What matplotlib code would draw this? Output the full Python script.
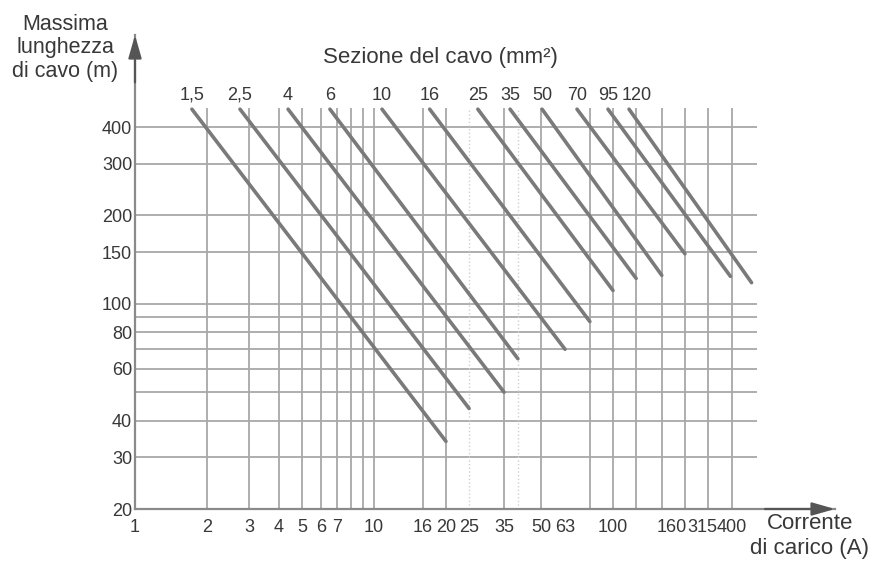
import matplotlib.pyplot as plt
from matplotlib.ticker import NullLocator
import matplotlib.transforms as mtransforms

plt.rcParams['font.family'] = ['Liberation Sans', 'DejaVu Sans']

# cable sections and their straight lines (start -> end)
sections = ['1,5', '2,5', '4', '6', '10', '16', '25', '35', '50', '70', '95', '120']
x_start = [1.73, 2.75, 4.37, 6.54, 10.8, 17.1, 27.2, 37.1, 50.5, 70.7, 95.3, 116.7]
y_start = [460, 460, 460, 460, 460, 460, 460, 460, 460, 460, 460, 460]
x_end = [20, 25, 35, 40, 63, 80, 100, 125, 160, 200, 310, 380]
y_end = [34, 44, 50, 65, 70, 87, 111, 122, 125, 148, 124, 118]

x_ticks = [1, 2, 3, 4, 5, 6, 7, 10, 16, 20, 25, 35, 50, 63, 100, 160, 315, 400]
y_ticks = [20, 30, 40, 60, 80, 100, 150, 200, 300, 400]
x_grid = [2, 3, 4, 5, 6, 7, 8, 9, 10, 16, 20, 35, 50, 80, 100, 125, 160, 200, 250, 315]
x_grid_light = [25, 40]
y_grid = [30, 40, 50, 60, 70, 80, 90, 100, 150, 200, 300, 400]

txt = '#383838'
grid = '#a8a8a8'
axcol = '#8a8a8a'
linecol = '#7a7a7a'

fig = plt.figure(figsize=(8.74, 5.71), dpi=100)
ax = fig.add_axes([135 / 874, 62 / 571, 700 / 874, 474 / 571])
ax.set_xscale('log')
ax.set_yscale('log')
ax.set_xlim(1, 849)
ax.set_ylim(20, 823)

ax.hlines(y_grid, 1, 400, color=grid, lw=1.3, zorder=1)
ax.vlines(x_grid, 20, 465, color=grid, lw=1.3, zorder=1)
ax.vlines(x_grid_light, 20, 465, color='#cfcfcf', lw=1.0, linestyles=':', zorder=1)

for xs, ys, xe, ye in zip(x_start, y_start, x_end, y_end):
    ax.plot([xs, xe], [ys, ye], color=linecol, lw=2.6, solid_capstyle='round', zorder=3)

trans = mtransforms.blended_transform_factory(ax.transData, ax.transAxes)
for lab, xs in zip(sections, x_start):
    t = ax.text(xs, 0.873, lab, transform=trans, ha='center', va='center',
                fontsize=13, color=txt)
    if lab == '120':
        # the label sits a little right of its line start in the reference
        t.set_transform(trans + mtransforms.ScaledTranslation(8 / 100, 0, fig.dpi_scale_trans))

for s in ['top', 'right']:
    ax.spines[s].set_visible(False)
for s in ['left', 'bottom']:
    ax.spines[s].set_color(axcol)
    ax.spines[s].set_linewidth(1.6)

ax.set_xticks(x_ticks, [str(v) for v in x_ticks])
ax.set_yticks(y_ticks, [str(v) for v in y_ticks])
ax.xaxis.set_minor_locator(NullLocator())
ax.yaxis.set_minor_locator(NullLocator())
ax.tick_params(axis='x', length=0, pad=7, labelsize=13, labelcolor=txt)
ax.tick_params(axis='y', length=0, pad=2, labelsize=13, labelcolor=txt)

# the last tick labels are squeezed leftwards in the reference
shift_px = {'160': 10, '315': -30, '400': -25}
for lbl in ax.get_xticklabels():
    dx = shift_px.get(lbl.get_text())
    if dx:
        lbl.set_transform(lbl.get_transform() +
                          mtransforms.ScaledTranslation(dx / 100, 0, fig.dpi_scale_trans))

arrow = dict(arrowstyle='-|>,head_length=1.4,head_width=0.4', color='#555555', lw=1.6,
             shrinkA=0, shrinkB=0)
ax.annotate('', xy=(0, 1.0), xycoords='axes fraction', xytext=(0, 0.9),
            arrowprops=arrow, annotation_clip=False)
ax.annotate('', xy=(1.0, 0), xycoords='axes fraction', xytext=(0.9, 0),
            arrowprops=arrow, annotation_clip=False)

fig.text(65 / 874, 1 - 48 / 571, 'Massima\nlunghezza\ndi cavo (m)', ha='center', va='center',
         fontsize=15.5, color=txt, linespacing=1.15)
fig.text(440 / 874, 1 - 57 / 571, 'Sezione del cavo (mm²)', ha='center', va='center',
         fontsize=16, color=txt)
fig.text(810 / 874, 1 - 536 / 571, 'Corrente\ndi carico (A)', ha='center', va='center',
         fontsize=16, color=txt, linespacing=1.3)

fig.savefig('out.png', dpi=100)
